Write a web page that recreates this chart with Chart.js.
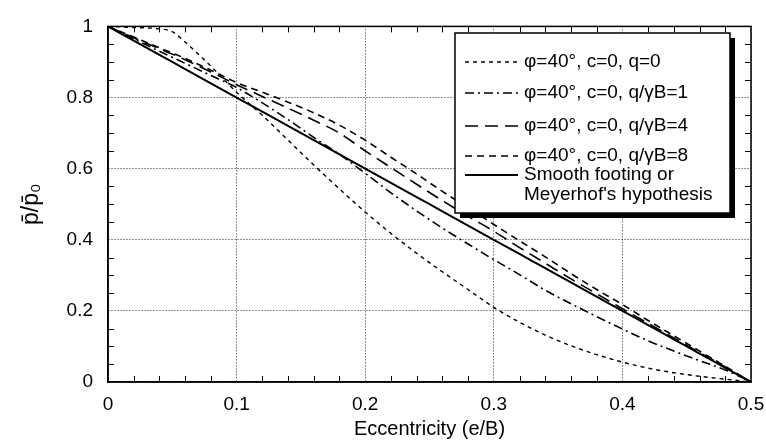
<!DOCTYPE html>
<html><head><meta charset="utf-8">
<script src="https://cdn.jsdelivr.net/npm/chart.js@4.4.0/dist/chart.umd.min.js"></script>
<style>html,body{margin:0;padding:0;background:#fff;}#wrap{width:766px;height:442px;}</style>
</head><body><div id="wrap"><canvas id="c" width="766" height="442"></canvas></div>
<script>
// ---- data ----
const eccentricity = [0, 0.02, 0.04, 0.05, 0.06, 0.08, 0.10, 0.12, 0.14, 0.16, 0.18, 0.20, 0.22, 0.24, 0.26, 0.28, 0.30, 0.32, 0.34, 0.36, 0.38, 0.40, 0.42, 0.44, 0.46, 0.48, 0.50];
const pQ0 =     [1, 0.997, 0.993, 0.985, 0.956, 0.888, 0.815, 0.750, 0.680, 0.610, 0.543, 0.478, 0.418, 0.362, 0.310, 0.260, 0.210, 0.168, 0.132, 0.102, 0.077, 0.056, 0.039, 0.026, 0.016, 0.008, 0];
const pQ1 =     [1, 0.965, 0.930, 0.913, 0.896, 0.862, 0.828, 0.785, 0.738, 0.688, 0.640, 0.587, 0.532, 0.481, 0.433, 0.388, 0.344, 0.302, 0.258, 0.220, 0.184, 0.149, 0.116, 0.087, 0.060, 0.034, 0];
const pQ4 =     [1, 0.968, 0.937, 0.922, 0.906, 0.872, 0.836, 0.803, 0.770, 0.736, 0.700, 0.650, 0.603, 0.556, 0.510, 0.466, 0.424, 0.378, 0.334, 0.290, 0.248, 0.206, 0.165, 0.124, 0.083, 0.042, 0];
const pQ8 =     [1, 0.970, 0.940, 0.925, 0.910, 0.877, 0.842, 0.815, 0.787, 0.757, 0.722, 0.680, 0.632, 0.585, 0.536, 0.490, 0.443, 0.397, 0.352, 0.305, 0.260, 0.218, 0.173, 0.130, 0.087, 0.044, 0];
const pSmooth = [1, 0.96, 0.92, 0.90, 0.88, 0.84, 0.80, 0.76, 0.72, 0.68, 0.64, 0.60, 0.56, 0.52, 0.48, 0.44, 0.40, 0.36, 0.32, 0.28, 0.24, 0.20, 0.16, 0.12, 0.08, 0.04, 0];
const seriesLabels = [
  ['φ=40°, c=0, q=0'],
  ['φ=40°, c=0, q/γB=1'],
  ['φ=40°, c=0, q/γB=4'],
  ['φ=40°, c=0, q/γB=8'],
  ['Smooth footing or', "Meyerhof's hypothesis"]
];
const xTicks = [0, 0.1, 0.2, 0.3, 0.4, 0.5];
const xTickLabels = ['0', '0.1', '0.2', '0.3', '0.4', '0.5'];
const yTicks = [0, 0.2, 0.4, 0.6, 0.8, 1];
const yTickLabels = ['0', '0.2', '0.4', '0.6', '0.8', '1'];
const xMinorTicks = [0.02,0.04,0.06,0.08,0.12,0.14,0.16,0.18,0.22,0.24,0.26,0.28,0.32,0.34,0.36,0.38,0.42,0.44,0.46,0.48];
const yMinorTicks = [0.05,0.1,0.15,0.25,0.3,0.35,0.45,0.5,0.55,0.65,0.7,0.75,0.85,0.9,0.95];
const xTitle = 'Eccentricity (e/B)';
const yTitle = 'p\u0304/p\u0304\u2080';

// ---- styles ----
const FONT = "'Liberation Sans', Arial, Helvetica, sans-serif";
const styles = [
  {width: 1.4, dash: [4, 4]},
  {width: 1.6, dash: [9, 4, 2, 4]},
  {width: 1.6, dash: [13, 7]},
  {width: 1.6, dash: [7, 5]},
  {width: 2, dash: []}
];
const seriesValues = [pQ0, pQ1, pQ4, pQ8, pSmooth];

const datasets = seriesValues.map((vals, i) => ({
  label: seriesLabels[i].join(' '),
  data: eccentricity.map((e, k) => ({x: e, y: vals[k]})),
  borderColor: '#000',
  borderWidth: styles[i].width,
  borderDash: styles[i].dash,
  pointRadius: 0,
  fill: false,
  cubicInterpolationMode: 'monotone'
}));

const framePlugin = {
  id: 'frame',
  afterDraw(chart) {
    const {ctx, chartArea: a, scales: {x, y}} = chart;
    ctx.save();
    ctx.strokeStyle = '#000';
    ctx.lineWidth = 1;
    ctx.setLineDash([]);
    ctx.beginPath();
    for (const v of xMinorTicks) {
      const px = Math.round(x.getPixelForValue(v)) + 0.5;
      ctx.moveTo(px, a.bottom); ctx.lineTo(px, a.bottom - 6);
      ctx.moveTo(px, a.top); ctx.lineTo(px, a.top + 6);
    }
    for (const v of yMinorTicks) {
      const py = Math.round(y.getPixelForValue(v)) + 0.5;
      ctx.moveTo(a.left, py); ctx.lineTo(a.left + 6, py);
      ctx.moveTo(a.right, py); ctx.lineTo(a.right - 6, py);
    }
    ctx.stroke();
    ctx.lineWidth = 1.5;
    ctx.strokeRect(a.left, a.top, a.right - a.left, a.bottom - a.top);

    // legend
    const L = 455, T = 33, W = 275, H = 180;
    ctx.fillStyle = '#000';
    ctx.fillRect(L + 5, T + 5, W, H);
    ctx.fillStyle = '#fff';
    ctx.fillRect(L, T, W, H);
    ctx.lineWidth = 1.5;
    ctx.strokeRect(L, T, W, H);
    const rows = [62, 93, 126, 156, 175];
    ctx.font = '19px ' + FONT;
    ctx.textBaseline = 'middle';
    ctx.textAlign = 'left';
    chart.data.datasets.forEach((ds, i) => {
      const yy = rows[i];
      ctx.strokeStyle = '#000';
      ctx.lineWidth = ds.borderWidth;
      ctx.setLineDash(ds.borderDash);
      ctx.beginPath();
      ctx.moveTo(465, yy); ctx.lineTo(518, yy);
      ctx.stroke();
      ctx.setLineDash([]);
      ctx.fillStyle = '#000';
      seriesLabels[i].forEach((t, j) => ctx.fillText(t, 524, yy + j * 20));
    });
    ctx.restore();
  }
};

new Chart(document.getElementById('c'), {
  type: 'line',
  data: {datasets},
  options: {
    responsive: false,
    animation: false,
    devicePixelRatio: 1,
    layout: {padding: {left: 0, right: 15, top: 19, bottom: 0}},
    plugins: {legend: {display: false}, tooltip: {enabled: false}},
    scales: {
      x: {
        type: 'linear', min: 0, max: 0.5,
        afterBuildTicks: s => { s.ticks = xTicks.map(v => ({value: v})); },
        afterFit: s => { s.height = 60; s.paddingRight = 0; },
        ticks: {color: '#000', font: {size: 19, family: FONT}, padding: 11, maxRotation: 0,
                callback: (v, i) => xTickLabels[i]},
        grid: {color: '#222', lineWidth: 1, drawTicks: false},
        border: {display: true, color: '#000', width: 1.5, dash: [1, 2]},
        title: {display: true, text: xTitle, color: '#000', font: {size: 20, family: FONT}, padding: {top: 0, bottom: 1}}
      },
      y: {
        type: 'linear', min: 0, max: 1,
        afterBuildTicks: s => { s.ticks = yTicks.map(v => ({value: v})); },
        afterFit: s => { s.width = 108; },
        ticks: {color: '#000', font: {size: 19, family: FONT}, padding: 15,
                callback: (v, i) => yTickLabels[i]},
        grid: {color: '#222', lineWidth: 1, drawTicks: false},
        border: {display: true, color: '#000', width: 1.5, dash: [1, 2]},
        title: {display: true, text: yTitle, color: '#000', font: {size: 23, family: FONT}, padding: {top: 18, bottom: 0}}
      }
    }
  },
  plugins: [framePlugin]
});
</script></body></html>
